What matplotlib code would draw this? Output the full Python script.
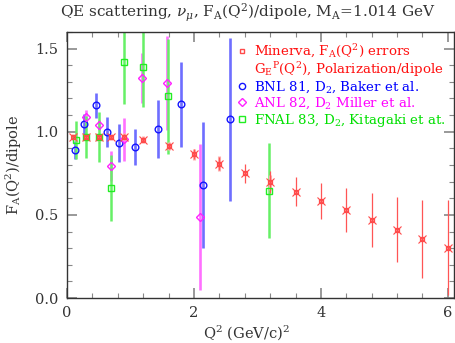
import numpy as np
import matplotlib
matplotlib.use("Agg")
import matplotlib.pyplot as plt
from matplotlib.lines import Line2D
from matplotlib.ticker import MultipleLocator

# Minerva F_A/dipole extraction
minerva_q2 = [0.1, 0.3, 0.5, 0.7, 0.9, 1.2, 1.6, 2.0, 2.4, 2.8, 3.2, 3.6, 4.0, 4.4, 4.8, 5.2, 5.6, 6.0]
minerva_fa = [0.968, 0.968, 0.966, 0.968, 0.970, 0.953, 0.915, 0.864, 0.807, 0.750, 0.697, 0.640, 0.584, 0.528, 0.470, 0.411, 0.355, 0.303]
minerva_err = [0.012, 0.012, 0.012, 0.013, 0.014, 0.016, 0.020, 0.030, 0.040, 0.058, 0.068, 0.088, 0.108, 0.133, 0.161, 0.194, 0.234, 0.284]
# G_E^p polarization errors (light band)
ge_q2 = [0.1, 0.3, 0.5, 0.7, 0.9, 1.2, 1.6, 2.0, 2.4, 3.2]
ge_fa = [0.968, 0.968, 0.966, 0.968, 0.970, 0.953, 0.915, 0.864, 0.807, 0.697]
ge_err = [0.02, 0.02, 0.02, 0.02, 0.02, 0.02, 0.025, 0.032, 0.045, 0.045]

# BNL 81, D2, Baker et al.
bnl_q2 = [0.12, 0.26, 0.45, 0.63, 0.815, 1.07, 1.43, 1.79, 2.15, 2.57]
bnl_fa = [0.892, 1.046, 1.158, 0.998, 0.932, 0.908, 1.014, 1.165, 0.680, 1.076]
bnl_err = [0.055, 0.06, 0.075, 0.09, 0.112, 0.11, 0.175, 0.257, 0.378, 0.49]

# ANL 82, D2, Miller et al.
anl_q2 = [0.30, 0.50, 0.70, 0.90, 1.18, 1.58, 2.10]
anl_fa = [1.088, 1.042, 0.792, 0.954, 1.323, 1.293, 0.486]
anl_err = [0.04, 0.03, 0.09, 0.13, 0.15, 0.28, 0.44]

# FNAL 83, D2, Kitagaki et al.
fnal_q2 = [0.14, 0.30, 0.50, 0.70, 0.90, 1.19, 1.59, 3.18]
fnal_fa = [0.950, 0.966, 0.966, 0.661, 1.418, 1.388, 1.213, 0.646]
fnal_err = [0.115, 0.127, 0.15, 0.20, 0.25, 0.24, 0.347, 0.284]

plt.rcParams['font.family'] = ['DejaVu Serif']
plt.rcParams['mathtext.fontset'] = 'dejavuserif'

fig = plt.figure(figsize=(4.56, 3.43), dpi=100)
ax = fig.add_axes([0.147, 0.131, 0.849, 0.776])

red = '#ff4a4a'
blue = '#1414ff'
mag = '#ff22ff'
green = '#22ee22'

# error bars
ax.errorbar(bnl_q2, bnl_fa, yerr=bnl_err, fmt='none', ecolor='#6e6eff', elinewidth=1.9, capsize=0)
ax.errorbar(anl_q2, anl_fa, yerr=anl_err, fmt='none', ecolor='#ff70ff', elinewidth=1.9, capsize=0)
ax.errorbar(fnal_q2, fnal_fa, yerr=fnal_err, fmt='none', ecolor='#66f066', elinewidth=1.8, capsize=0)
ax.errorbar(ge_q2, ge_fa, yerr=ge_err, fmt='none', ecolor='#ffb0b0', elinewidth=2.2, capsize=0)
ax.errorbar(minerva_q2, minerva_fa, yerr=minerva_err, fmt='none', ecolor='#ff5555', elinewidth=0.9, capsize=0)

# markers
ax.plot(bnl_q2, bnl_fa, 'o', ms=4.8, mfc='none', mec=blue, mew=1.0)
ax.plot(anl_q2, anl_fa, 'D', ms=4.0, mfc='none', mec=mag, mew=1.0)
ax.plot(fnal_q2, fnal_fa, 's', ms=4.8, mfc='none', mec=green, mew=1.0)
ax.plot(minerva_q2, minerva_fa, 's', ms=3.2, mfc='none', mec=red, mew=0.9)
ax.plot(minerva_q2, minerva_fa, 'x', ms=5.5, mec=red, mew=0.8)

ax.set_xlim(0, 6.1)
ax.set_ylim(0, 1.6)
ax.xaxis.set_major_locator(MultipleLocator(2))
ax.xaxis.set_minor_locator(MultipleLocator(0.4))
ax.yaxis.set_major_locator(MultipleLocator(0.5))
ax.yaxis.set_minor_locator(MultipleLocator(0.1))
ax.yaxis.set_major_formatter(matplotlib.ticker.FormatStrFormatter('%.1f'))
ax.tick_params(which='both', direction='in', top=True, right=True, color='#888888',
               labelsize=10.5, labelcolor='#333333')
ax.tick_params(which='major', length=7, width=1.2, pad=6)
ax.tick_params(which='minor', length=3.5, width=0.8)
for sp in ax.spines.values():
    sp.set_color('#333333')
    sp.set_linewidth(1.0)

fig.text(0.544, 0.963, r"QE scattering, $\nu_\mu$, F$_{\rm A}$(Q$^2$)/dipole, M$_{\rm A}$=1.014 GeV",
         ha='center', va='center', fontsize=11, color='#333333')
fig.text(0.54, 0.03, r"Q$^2$ (GeV/c)$^2$", ha='center', va='center', fontsize=10.5, color='#333333')
fig.text(0.03, 0.52, r"F$_{\rm A}$(Q$^2$)/dipole", ha='center', va='center', rotation=90,
         fontsize=10.5, color='#333333')

# legend
handles = [
    Line2D([], [], ls='none', marker='s', ms=3.2, mfc='none', mec=red),
    Line2D([], [], ls='none'),
    Line2D([], [], ls='none', marker='o', ms=4.5, mfc='none', mec=blue),
    Line2D([], [], ls='none', marker='D', ms=3.8, mfc='none', mec=mag),
    Line2D([], [], ls='none', marker='s', ms=4.5, mfc='none', mec=green),
]
labels = [
    r"Minerva, F$_{\rm A}$(Q$^2$) errors",
    r"G$_{\rm E}$$^{\rm P}$(Q$^2$), Polarization/dipole",
    r"BNL 81, D$_2$, Baker et al.",
    r"ANL 82, D$_2$ Miller et al.",
    r"FNAL 83, D$_2$, Kitagaki et at.",
]
leg = ax.legend(handles, labels, loc='upper left', bbox_to_anchor=(0.415, 0.995),
                frameon=False, fontsize=9.6, handlelength=0.8, handletextpad=0.45,
                labelspacing=0.04, borderaxespad=0.3,
                labelcolor=['#ff1010', '#ff1010', '#0000ff', '#ff00ff', '#00e000'])

plt.savefig("out.png", dpi=100)
